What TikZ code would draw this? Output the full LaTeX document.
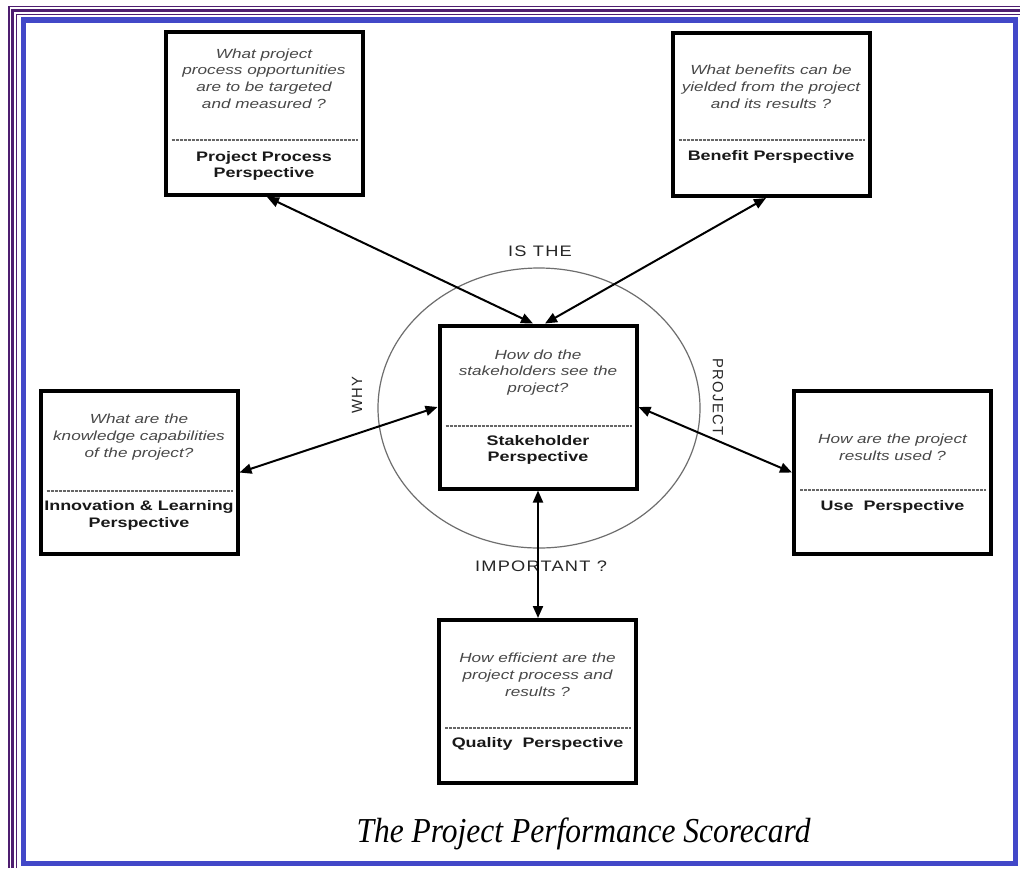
\documentclass[tikz,border=0pt]{standalone}
\usepackage{fontspec}
\setmainfont{Liberation Sans}
\newfontfamily\boxfont[FakeStretch=1.3]{Liberation Sans}
\newfontfamily\capfont[FakeStretch=1.2,LetterSpace=8]{Liberation Sans}
\newfontfamily\vcapfont[LetterSpace=8]{Liberation Sans}
\newfontfamily\captionfont[FakeStretch=0.9]{Liberation Serif}
\usetikzlibrary{arrows.meta,calc}

\definecolor{frameblue}{RGB}{66,72,200}
\definecolor{framepurple}{RGB}{78,30,112}
\definecolor{qgray}{RGB}{72,72,72}
\definecolor{ringgray}{RGB}{110,110,110}

\tikzset{
  pbox/.style={draw=black, line width=2pt, minimum width=98.5pt,
    minimum height=81.5pt, inner sep=0pt, fill=white},
  question/.style={font=\boxfont\itshape\fontsize{6.6}{8.4}\selectfont,
    text=qgray, align=center, inner sep=0pt},
  heading/.style={font=\boxfont\bfseries\fontsize{6.9}{8.4}\selectfont,
    text=black!90, align=center, inner sep=0pt},
  divider/.style={draw=black!60, line width=0.55pt, dash pattern=on 1.5pt off 0.5pt},
  link/.style={draw=black, line width=1pt,
    {Triangle[length=6pt,width=5pt]}-{Triangle[length=6pt,width=5pt]}},
  ringlabel/.style={font=\capfont\fontsize{7.6}{8}\selectfont, text=black!85, inner sep=0pt},
  vringlabel/.style={font=\vcapfont\fontsize{7.4}{8}\selectfont, text=black!85, inner sep=0pt},
  purpleline/.style={draw=framepurple, line width=#1},
}

\begin{document}
\begin{tikzpicture}[x=0.5pt,y=-0.5pt]
\useasboundingbox (0,0) rectangle (1020,868);
\fill[white] (0,0) rectangle (1020,868);

% page frame: three purple rules and a blue border
\draw[purpleline=0.75pt] (9,868) -- (9,6.5) -- (1020,6.5);
\draw[purpleline=1.25pt] (12.5,868) -- (12.5,10.5) -- (1020,10.5);
\draw[purpleline=0.75pt] (16.5,868) -- (16.5,14.5) -- (1020,14.5);
\draw[draw=frameblue, line width=2.75pt] (23.5,20) rectangle (1015.5,863.5);

% ring around the stakeholder box and its words
\draw[ringgray, line width=0.6pt] (539,408) ellipse [x radius=161, y radius=140];
\node[ringlabel] (isthe) at (540,251) {IS THE};
\node[vringlabel, rotate=90] (why) at (357,395) {WHY};
\node[vringlabel, rotate=-90] (project) at (718,397) {PROJECT};
\node[ringlabel] (important) at (541,566) {IMPORTANT ?};

% perspective boxes
\node[pbox] (pp)   at (264,113.5) {};
\node[pbox] (ben)  at (771,114.5) {};
\node[pbox] (sh)   at (538,407) {};
\node[pbox] (inn)  at (139,472.5) {};
\node[pbox] (use)  at (892.5,472.5) {};
\node[pbox] (qual) at (537.5,701.5) {};

% project process
\node[question] (ppq) at (264,78.5) {What project\\process opportunities\\are to be targeted\\and measured ?};
\draw[divider] ($(pp.west|-0,140)+(8,0)$) -- ($(pp.east|-0,140)+(-7,0)$);
\node[heading] (pph) at (264,166) {Project Process\\Perspective};

% benefit
\node[question] (benq) at (771,87) {What benefits can be\\yielded from the project\\and its results ?};
\draw[divider] ($(ben.west|-0,140)+(8,0)$) -- ($(ben.east|-0,140)+(-7,0)$);
\node[heading] (benh) at (771,157) {Benefit Perspective};

% stakeholder
\node[question] (shq) at (538,372.5) {How do the\\stakeholders see the\\project?};
\draw[divider] ($(sh.west|-0,426)+(8,0)$) -- ($(sh.east|-0,426)+(-7,0)$);
\node[heading] (shh) at (538,450) {Stakeholder\\Perspective};

% innovation and learning
\node[question] (innq) at (139,437) {What are the\\knowledge capabilities\\of the project?};
\draw[divider] ($(inn.west|-0,491)+(8,0)$) -- ($(inn.east|-0,491)+(-7,0)$);
\node[heading] (innh) at (139,515.5) {Innovation \& Learning\\Perspective};

% use
\node[question] (useq) at (892.5,447) {How are the project\\results used ?};
\draw[divider] ($(use.west|-0,490)+(8,0)$) -- ($(use.east|-0,490)+(-7,0)$);
\node[heading] (useh) at (892.5,507) {Use\ \ Perspective};

% quality
\node[question] (qualq) at (537.5,675) {How efficient are the\\project process and\\results ?};
\draw[divider] ($(qual.west|-0,728)+(8,0)$) -- ($(qual.east|-0,728)+(-7,0)$);
\node[heading] (qualh) at (537.5,743.5) {Quality\ \ Perspective};

% connectors
\draw[link] ([xshift=1.5pt]pp.south) -- ([xshift=-2.5pt]sh.north);
\draw[link] ([xshift=-2.5pt]ben.south) -- ([xshift=3.5pt]sh.north);
\draw[link] (inn.east) -- (sh.west);
\draw[link] (use.west) -- (sh.east);
\draw[link] (sh.south) -- (sh.south |- qual.north);

% caption
\node[font=\captionfont\itshape\fontsize{17.5}{20}\selectfont, anchor=base, inner sep=0pt]
  (caption) at (583.5,842) {The Project Performance Scorecard};
\end{tikzpicture}
\end{document}
